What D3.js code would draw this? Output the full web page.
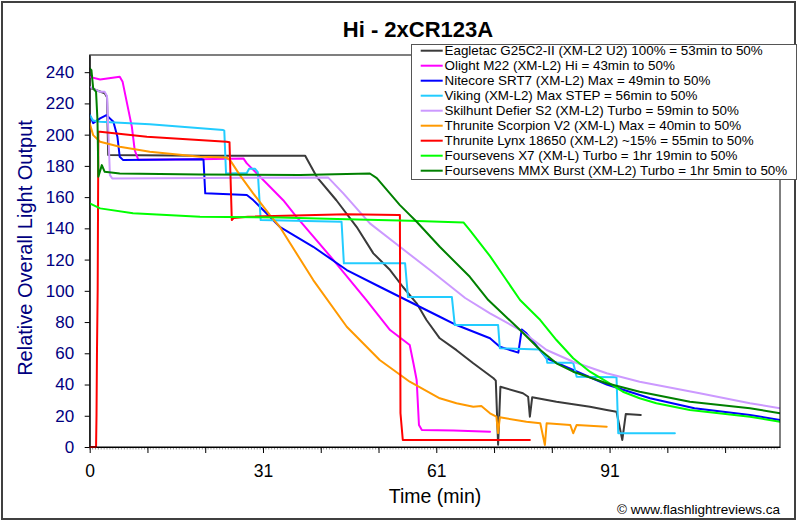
<!DOCTYPE html>
<html><head><meta charset="utf-8">
<script src="https://cdn.jsdelivr.net/npm/d3@7"></script>
<style>body{margin:0;background:#fff;} text{font-family:Arial,"Liberation Sans",sans-serif;}</style>
</head><body><svg id="chart" width="800" height="524"></svg>
<script>
const chartTitle = "Hi - 2xCR123A";
const xTitle = "Time (min)";
const yTitle = "Relative Overall Light Output";
const credit = "\u00A9 www.flashlightreviews.ca";

const seriesNames = [
  "Eagletac G25C2-II (XM-L2 U2) 100% = 53min to 50%",
  "Olight M22 (XM-L2) Hi = 43min to 50%",
  "Nitecore SRT7 (XM-L2) Max = 49min to 50%",
  "Viking (XM-L2) Max STEP = 56min to 50%",
  "Skilhunt Defier S2 (XM-L2) Turbo = 59min to 50%",
  "Thrunite Scorpion V2 (XM-L) Max = 40min to 50%",
  "Thrunite Lynx 18650 (XM-L2) ~15% = 55min to 50%",
  "Foursevens X7 (XM-L) Turbo = 1hr 19min to 50%",
  "Foursevens MMX Burst (XM-L2) Turbo = 1hr 5min to 50%"
];
const seriesColors = ["#3a3a3a","#ff00ff","#0000ff","#22ccff","#cc99ff","#ff9900","#ff0000","#00ff00","#008000"];

// [time (min), relative output]
const eagletac = [[0,230],[2.6,226.5],[3.0,224],[3.2,187],[20,186.5],[37.3,186.5],[39.3,173],[42.7,158],[46.2,141],[49.1,124],[52,113.3],[54.2,102.6],[56.6,92],[58.3,81.3],[60.6,69.6],[63.5,62],[66.4,53.6],[69.9,44],[70.3,42.5],[70.7,1.5],[71.1,38.6],[75,34.4],[75.9,32.2],[76.2,19.4],[76.6,31.8],[80.8,29],[86.6,25.8],[89.5,23.7],[91.2,22.6],[92.2,4.5],[92.8,21.1],[95.4,20.5]];
const olight = [[0,237],[1.8,235.3],[5.2,237],[5.7,233.8],[7.3,205],[7.8,190],[8.4,184],[19.1,184.3],[26.6,184.8],[27.2,181.6],[31.2,166.6],[33.5,158],[35.8,147.4],[42.2,119.7],[47.9,94],[52,74.9],[55.4,65.3],[56.1,52.5],[56.6,42.9],[57,14.1],[57.5,10.9],[63,10.5],[69.3,9.8]];
const nitecore = [[0,212.9],[0.6,207.4],[1.8,210.4],[2.9,212.5],[4.1,208.2],[4.8,198.6],[5.2,185.8],[5.8,183.7],[19.4,184.3],[19.7,184],[20,162.4],[27.2,161.3],[28.3,158.1],[31.2,147.4],[32.9,141],[38.7,128.2],[44.5,113.3],[50.2,102.6],[55.4,93],[60.6,83.4],[63.5,78.1],[69.3,69.6],[71,64.2],[74.2,60.4],[74.8,75.3],[75.6,72.8],[79.1,56.8],[83.7,49.3],[89.5,40],[97,31.2],[104.7,24.8],[114.3,20.5],[119.5,17.3]];
const viking = [[0,212.5],[0.6,209],[1.8,208.2],[10.4,206.7],[23.1,202.9],[23.3,202.5],[23.6,175.2],[27.2,175.4],[27.6,178.2],[28.6,178.2],[29.1,176],[29.6,145.3],[43.6,144.2],[44,117.6],[54.6,117.6],[55.1,96],[62.7,96],[63.2,78.1],[70.7,78.1],[71,63.2],[77.9,62.5],[79.1,56.8],[79.2,54],[83.7,54],[84.3,45],[91.2,44.6],[91.5,8.8],[101.3,8.8]];
const skilhunt = [[0,230.6],[1.8,227.4],[2.6,227.4],[3.0,224.6],[3.5,174.1],[3.9,172],[20,172.3],[41.3,172.5],[43.9,162.4],[48.5,143.2],[53.7,128.2],[58.9,113.3],[65,95.4],[69.3,85.6],[74.5,74.9],[79.1,62.1],[83.7,54.6],[89.5,47.2],[95.2,41.8],[105.6,34.4],[114.3,28],[119.5,24.8]];
const scorpion = [[0,207.2],[0.6,199.7],[1.8,195.4],[5.2,192.2],[10.4,189],[19.1,185.8],[23.7,185.3],[24.3,183.7],[26,174.1],[28.3,162.4],[31.2,148.5],[32.9,141],[38.7,106.9],[44.5,77],[50.2,55.7],[55.4,41.8],[60.6,31.2],[63.5,28],[66.4,25.8],[67.8,26.2],[69.3,21.6],[70.4,19.4],[70.7,8.8],[71,19],[75.6,16.2],[78,15.2],[78.8,1.3],[79.1,15.2],[83.2,14.1],[83.7,8.8],[84.3,14.1],[89.5,13]];
const lynx = [[0,0],[1.1,0],[1.18,20.5],[1.26,61],[1.38,100.5],[1.5,201.8],[1.8,201.8],[9.9,198.6],[23.7,195.4],[24.2,195.2],[24.6,145.3],[24.9,146.6],[27.4,147.5],[44.5,149.1],[53.4,148.5],[53.7,148.5],[53.8,21.6],[54.2,4.5],[76.2,4.5]];
const x7 = [[0,156],[1.8,152.8],[7.5,149.6],[19.1,147.5],[32.9,147],[44.5,145.9],[55.4,144.8],[64.7,143.8],[65.8,138.9],[69.3,122.2],[71.9,108.2],[74.5,94.1],[78,81.3],[80.8,68.5],[83.7,56.8],[86.6,48.2],[89.5,41.8],[92.3,35.4],[95.2,31.2],[98.1,28],[103.9,23.7],[114.3,19.4],[119.5,16.2]];
const mmx = [[0,242.4],[0.3,241.3],[0.6,229.8],[1.1,227.4],[1.35,209],[1.5,173],[2.1,180.5],[2.6,176.2],[5.2,175.1],[19.1,174.5],[36.4,174.1],[48.5,175.1],[49.7,172.2],[53.7,154.9],[56.6,144.2],[60.6,128.2],[65.8,109],[69,94.1],[74.5,74.9],[78,62.1],[80.8,53.6],[83.7,48.2],[89.5,40.8],[95.2,35.4],[103.9,29],[114.3,24.8],[119.5,21.6]];
const seriesData = [eagletac, olight, nitecore, viking, skilhunt, scorpion, lynx, x7, mmx];

const xMajorTicks = [0,10,20,30,40,50,60,70,80,90,100,110];
const xLabelValues = [0,30,60,90];
const xTickLabels = ["0","31","61","91"];
const yTicks = [0,20,40,60,80,100,120,140,160,180,200,220,240];

const svg = d3.select("#chart");
const plot = {left:89.7, right:780, top:55, bottom:447};
const x = d3.scaleLinear().domain([0,119.5]).range([plot.left, plot.right]);
const y = d3.scaleLinear().domain([0,251]).range([plot.bottom, plot.top]);

svg.append("rect").attr("x",0).attr("y",0).attr("width",800).attr("height",524).attr("fill","#fff");
svg.append("rect").attr("x",2).attr("y",2).attr("width",793).attr("height",517)
  .attr("fill","none").attr("stroke","#404040").attr("stroke-width",2);

svg.append("text").attr("x",418).attr("y",37).attr("text-anchor","middle")
  .attr("font-size","22px").attr("font-weight","bold").attr("fill","#000").text(chartTitle);

// minor ticks on x
svg.append("g").selectAll("line").data(d3.range(0,119.5,0.5)).join("line")
  .attr("x1",d=>x(d)).attr("x2",d=>x(d)).attr("y1",plot.bottom).attr("y2",plot.bottom+2.5)
  .attr("stroke","#777").attr("stroke-width",0.8);

// y axis
const yAxis = svg.append("g").attr("transform",`translate(${plot.left},0)`)
  .call(d3.axisLeft(y).tickValues(yTicks).tickSize(5).tickSizeOuter(0).tickPadding(10.5));
yAxis.select(".domain").attr("stroke","#000");
yAxis.selectAll(".tick line").attr("stroke","#000");
yAxis.selectAll(".tick text").attr("font-size","17px").attr("fill","#000080")
  .attr("font-family","Arial, 'Liberation Sans', sans-serif");

// x axis
const xAxis = svg.append("g").attr("transform",`translate(0,${plot.bottom})`)
  .call(d3.axisBottom(x).tickValues(xMajorTicks).tickSize(6).tickSizeOuter(0).tickPadding(11.5)
    .tickFormat(d => { const i = xLabelValues.indexOf(d); return i >= 0 ? xTickLabels[i] : ""; }));
xAxis.select(".domain").attr("stroke","#000");
xAxis.selectAll(".tick line").attr("stroke","#000");
xAxis.selectAll(".tick text").attr("font-size","17.5px").attr("fill","#000")
  .attr("font-family","Arial, 'Liberation Sans', sans-serif");

// clip + lines
svg.append("clipPath").attr("id","clip").append("rect")
  .attr("x",plot.left).attr("y",plot.top-2).attr("width",plot.right-plot.left).attr("height",plot.bottom-plot.top+3);
const line = d3.line().x(d=>x(d[0])).y(d=>y(d[1]));
svg.append("g").attr("clip-path","url(#clip)").selectAll("path").data(seriesData).join("path")
  .attr("d",line).attr("fill","none").attr("stroke",(d,i)=>seriesColors[i])
  .attr("stroke-width",2).attr("stroke-linejoin","round").attr("stroke-linecap","round");

// plot frame
svg.append("rect").attr("x",plot.left).attr("y",plot.top).attr("width",plot.right-plot.left)
  .attr("height",plot.bottom-plot.top).attr("fill","none").attr("stroke","#000").attr("stroke-width",1);

// axis titles
svg.append("text").attr("transform","translate(32,248) rotate(-90)").attr("text-anchor","middle")
  .attr("font-size","20px").attr("fill","#000080").text(yTitle);
svg.append("text").attr("x",435).attr("y",503).attr("text-anchor","middle")
  .attr("font-size","19.5px").attr("fill","#000").text(xTitle);
svg.append("text").attr("x",780).attr("y",514).attr("text-anchor","end")
  .attr("font-size","13.5px").attr("fill","#000").text(credit);

// legend
const lg = svg.append("g");
lg.append("rect").attr("x",411.5).attr("y",44.5).attr("width",385).attr("height",135)
  .attr("fill","#fff").attr("stroke","#555").attr("stroke-width",1);
const rows = lg.selectAll("g.row").data(seriesNames).join("g").attr("class","row")
  .attr("transform",(d,i)=>`translate(0,${50.7+15*i})`);
rows.append("line").attr("x1",420.7).attr("x2",442.7).attr("y1",0).attr("y2",0)
  .attr("stroke",(d,i)=>seriesColors[i]).attr("stroke-width",2);
rows.append("text").attr("x",444.5).attr("y",4.7).attr("font-size","13.4px").attr("fill","#000").text(d=>d);
</script></body></html>
